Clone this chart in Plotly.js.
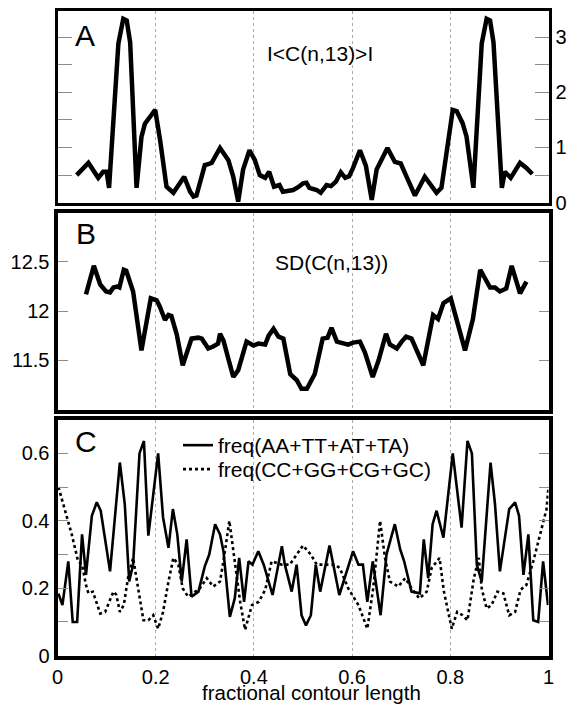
<!DOCTYPE html>
<html>
<head>
<meta charset="utf-8">
<script src="https://cdn.plot.ly/plotly-3.0.1.min.js"></script>
<style>html,body{margin:0;padding:0;background:#fff;}#chart{width:571px;height:706px;}</style>
</head>
<body>
<div id="chart"></div>
<script>
// Panel A: |<C(n,13)>|
const A_x = [0.039,0.063,0.083,0.093,0.100,0.105,0.124,0.134,0.141,0.148,0.161,0.171,0.178,0.199,0.209,0.222,0.236,0.258,0.270,0.277,0.283,0.300,0.307,0.314,0.331,0.348,0.358,0.368,0.378,0.391,0.402,0.412,0.423,0.431,0.441,0.452,0.459,0.470,0.480,0.490,0.500,0.507,0.513,0.528,0.536,0.548,0.557,0.567,0.577,0.586,0.594,0.602,0.616,0.628,0.640,0.650,0.672,0.687,0.699,0.712,0.728,0.748,0.772,0.782,0.796,0.805,0.813,0.825,0.833,0.847,0.864,0.874,0.881,0.888,0.905,0.911,0.923,0.942,0.955,0.967];
const A_y = [0.50,0.72,0.45,0.56,0.56,0.27,2.88,3.33,3.30,2.90,0.27,1.19,1.43,1.68,1.13,0.29,0.18,0.47,0.20,0.11,0.13,0.68,0.70,0.72,0.99,0.77,0.47,0.02,0.60,0.95,0.77,0.50,0.45,0.56,0.29,0.32,0.20,0.21,0.23,0.28,0.35,0.36,0.27,0.23,0.18,0.32,0.30,0.38,0.55,0.45,0.48,0.63,0.95,0.67,0.05,0.60,0.99,0.74,0.71,0.45,0.13,0.47,0.18,0.27,1.08,1.68,1.66,1.44,1.20,0.27,2.88,3.33,3.30,2.90,0.27,0.56,0.45,0.72,0.63,0.52];

// Panel B: SD(C(n,13))
const B_x = [0.058,0.074,0.087,0.099,0.107,0.114,0.121,0.126,0.135,0.140,0.154,0.171,0.190,0.202,0.208,0.219,0.226,0.232,0.243,0.255,0.273,0.287,0.294,0.307,0.317,0.327,0.331,0.338,0.358,0.368,0.385,0.399,0.409,0.423,0.430,0.440,0.450,0.460,0.474,0.487,0.497,0.508,0.524,0.540,0.550,0.558,0.569,0.581,0.592,0.602,0.616,0.626,0.642,0.654,0.669,0.677,0.691,0.701,0.710,0.721,0.745,0.765,0.775,0.786,0.801,0.830,0.846,0.861,0.881,0.891,0.901,0.914,0.925,0.942,0.955];
const B_y = [12.17,12.46,12.27,12.20,12.19,12.24,12.25,12.24,12.42,12.41,12.20,11.60,12.13,12.11,12.05,11.91,11.96,11.95,11.76,11.45,11.72,11.73,11.72,11.62,11.64,11.67,11.77,11.70,11.33,11.40,11.69,11.65,11.67,11.66,11.75,11.82,11.74,11.72,11.36,11.30,11.21,11.21,11.36,11.72,11.73,11.83,11.69,11.68,11.66,11.68,11.69,11.58,11.33,11.50,11.77,11.66,11.62,11.69,11.74,11.72,11.45,11.96,11.92,12.08,12.13,11.60,11.92,12.42,12.24,12.24,12.20,12.23,12.46,12.18,12.30];

// Panel C: dinucleotide frequencies
const C_at_x = [0.002,0.010,0.022,0.031,0.040,0.050,0.058,0.070,0.080,0.088,0.107,0.117,0.127,0.137,0.146,0.154,0.167,0.176,0.185,0.205,0.215,0.226,0.235,0.244,0.253,0.263,0.273,0.287,0.300,0.309,0.321,0.331,0.338,0.351,0.361,0.370,0.380,0.389,0.397,0.409,0.420,0.438,0.457,0.463,0.477,0.487,0.497,0.506,0.516,0.526,0.535,0.554,0.562,0.574,0.602,0.613,0.622,0.631,0.642,0.658,0.670,0.687,0.698,0.706,0.721,0.738,0.746,0.755,0.764,0.772,0.786,0.805,0.823,0.835,0.844,0.854,0.864,0.882,0.891,0.901,0.920,0.932,0.940,0.949,0.959,0.969,0.979,0.989,0.999];
const C_at_y = [0.184,0.15,0.28,0.10,0.10,0.36,0.24,0.415,0.455,0.43,0.25,0.41,0.573,0.45,0.22,0.27,0.60,0.637,0.356,0.60,0.41,0.32,0.435,0.36,0.22,0.345,0.175,0.19,0.265,0.30,0.39,0.36,0.31,0.115,0.17,0.29,0.16,0.28,0.27,0.31,0.27,0.18,0.325,0.27,0.19,0.27,0.12,0.09,0.12,0.27,0.19,0.327,0.27,0.18,0.31,0.27,0.27,0.16,0.28,0.12,0.30,0.39,0.315,0.28,0.19,0.185,0.345,0.23,0.39,0.43,0.35,0.60,0.38,0.637,0.60,0.27,0.22,0.573,0.45,0.25,0.435,0.455,0.415,0.24,0.36,0.105,0.10,0.28,0.15];
const C_gc_x = [0.002,0.015,0.029,0.042,0.050,0.058,0.063,0.072,0.087,0.097,0.114,0.120,0.127,0.135,0.144,0.154,0.175,0.185,0.195,0.205,0.215,0.226,0.236,0.246,0.255,0.266,0.280,0.290,0.304,0.317,0.331,0.339,0.350,0.361,0.372,0.382,0.396,0.410,0.423,0.436,0.457,0.473,0.487,0.500,0.516,0.528,0.540,0.565,0.575,0.592,0.613,0.631,0.643,0.657,0.667,0.677,0.694,0.708,0.721,0.737,0.752,0.762,0.778,0.787,0.803,0.814,0.825,0.835,0.848,0.858,0.864,0.874,0.884,0.896,0.908,0.920,0.932,0.943,0.955,0.969,0.983,0.996,1.000];
const C_gc_y = [0.50,0.435,0.36,0.28,0.27,0.21,0.185,0.19,0.125,0.13,0.19,0.18,0.13,0.15,0.234,0.29,0.105,0.105,0.12,0.08,0.13,0.22,0.29,0.27,0.20,0.175,0.19,0.20,0.23,0.205,0.22,0.29,0.40,0.28,0.16,0.077,0.15,0.16,0.195,0.28,0.27,0.27,0.30,0.327,0.30,0.27,0.27,0.27,0.26,0.20,0.15,0.08,0.20,0.40,0.29,0.22,0.205,0.23,0.20,0.17,0.19,0.26,0.29,0.19,0.08,0.13,0.12,0.105,0.23,0.29,0.20,0.14,0.15,0.19,0.185,0.12,0.13,0.195,0.21,0.28,0.36,0.435,0.50];

const A_ticks = [0,0.5,1,1.5,2,2.5,3];
const A_ticktext = ['0','','1','','2','','3'];
const B_ticks = [11.5,12,12.5];
const B_ticktext = ['11.5','12','12.5'];
const C_ticks = [0,0.1,0.2,0.3,0.4,0.5,0.6];
const C_ticktext = ['0','','0.2','','0.4','','0.6'];
const X_ticks = [0,0.2,0.4,0.6,0.8,1];
const X_ticktext = ['0','0.2','0.4','0.6','0.8','1'];
const legendNames = ['freq(AA+TT+AT+TA)','freq(CC+GG+CG+GC)'];
const xTitle = 'fractional contour length';

const FONT = 'Liberation Sans, Arial, Helvetica, sans-serif';

const traces = [
  {x:A_x, y:A_y, xaxis:'x', yaxis:'y', mode:'lines', line:{color:'#000', width:4.5}, showlegend:false, hoverinfo:'skip'},
  {x:B_x, y:B_y, xaxis:'x2', yaxis:'y2', mode:'lines', line:{color:'#000', width:4.5}, showlegend:false, hoverinfo:'skip'},
  {x:C_at_x, y:C_at_y, xaxis:'x3', yaxis:'y3', mode:'lines', name:legendNames[0], legend:'legend', line:{color:'#000', width:2.6}},
  {x:C_gc_x, y:C_gc_y, xaxis:'x3', yaxis:'y3', mode:'lines', name:legendNames[1], legend:'legend2', line:{color:'#000', width:2.6, dash:'dot'}}
];

const xdom = [57.5/571, 548.5/571];
function xax(lw, anchor, showlabels){
  return {domain:xdom, range:[0,1], anchor:anchor, showline:true, mirror:true, linewidth:lw, linecolor:'#000',
    showgrid:true, gridcolor:'#aaaaaa', griddash:'dot', gridwidth:1, zeroline:false, ticks:'',
    tickmode:'array', tickvals:X_ticks, ticktext:X_ticktext, showticklabels:showlabels,
    tickfont:{family:FONT, size:20, color:'#000'}};
}
function yax(dom, range, lw, vals, txt, len, side){
  return {domain:dom, range:range, side:side, showline:true, mirror:'ticks', linewidth:lw, linecolor:'#000',
    ticks:'inside', ticklen:len, tickwidth:1, tickcolor:'#8c8c8c', tickmode:'array', tickvals:vals, ticktext:txt,
    showgrid:false, zeroline:false, tickfont:{family:FONT, size:20, color:'#000'}};
}
const H = 706;
const ydomA = [(H-202.7)/H, (H-10.5)/H];
const ydomB = [(H-409.5)/H, (H-212.7)/H];
const ydomC = [(H-655.7)/H, (H-419.7)/H];

const xa = xax(3,'y',false);
const xb = xax(4,'y2',false); xb.matches='x';
const xc = xax(4,'y3',true); xc.matches='x';

const ya = yax(ydomA,[0,3.48],3,A_ticks,A_ticktext,14,'right'); ya.anchor='x';
const yb = yax(ydomB,[11,13],4,B_ticks,B_ticktext,10,'left'); yb.anchor='x2';
const yc = yax(ydomC,[0,0.7],4,C_ticks,C_ticktext,10,'left'); yc.anchor='x3';

const legStyle = (ytop) => ({x:178/571, y:(H-ytop)/H, xanchor:'left', yanchor:'top', bgcolor:'rgba(0,0,0,0)', borderwidth:0,
    font:{family:FONT, size:21, color:'#000'}});

const annFont = (s) => ({family:FONT, size:s, color:'#000'});
const layout = {
  width:571, height:706, margin:{l:0,r:0,t:0,b:0}, paper_bgcolor:'#fff', plot_bgcolor:'#fff',
  font:{family:FONT, size:20, color:'#000'},
  showlegend:true,
  legend:legStyle(425),
  legend2:legStyle(449),
  xaxis:xa, yaxis:ya, xaxis2:xb, yaxis2:yb, xaxis3:xc, yaxis3:yc,
  annotations:[
    {text:'A', xref:'x domain', yref:'y domain', x:(85-57.5)/491, y:(202.7-36)/192.2, xanchor:'center', yanchor:'middle', showarrow:false, font:annFont(30)},
    {text:'I&lt;C(n,13)&gt;I', xref:'x domain', yref:'y domain', x:(265-57.5)/491, xanchor:'left', y:(202.7-54)/192.2, yanchor:'middle', showarrow:false, font:annFont(21)},
    {text:'B', xref:'x2 domain', yref:'y2 domain', x:(85.5-57.5)/491, y:(409.5-234)/196.8, xanchor:'center', yanchor:'middle', showarrow:false, font:annFont(30)},
    {text:'SD(C(n,13))', xref:'x2 domain', yref:'y2 domain', x:(273-57.5)/491, xanchor:'left', y:(409.5-262)/196.8, yanchor:'middle', showarrow:false, font:annFont(21)},
    {text:'C', xref:'x3 domain', yref:'y3 domain', x:(86-57.5)/491, y:(655.7-442)/236, xanchor:'center', yanchor:'middle', showarrow:false, font:annFont(30)},
    {text:xTitle, xref:'paper', yref:'paper', x:311.5/571, y:1/H, xanchor:'center', yanchor:'bottom', borderpad:0, showarrow:false, font:annFont(20.5)}
  ]
};

Plotly.newPlot('chart', traces, layout, {staticPlot:true, displayModeBar:false});
</script>
</body>
</html>
